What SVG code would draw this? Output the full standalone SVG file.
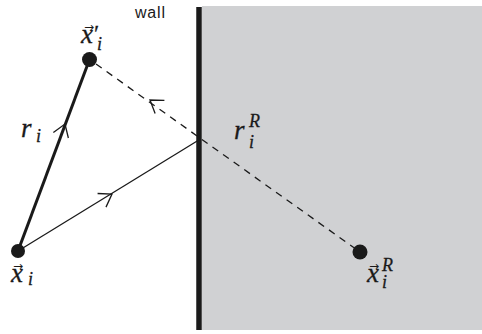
<svg xmlns="http://www.w3.org/2000/svg" xmlns:xlink="http://www.w3.org/1999/xlink" width="482" height="334" viewBox="0 0 482 334">
<style>
.m{font-family:"Liberation Serif","Times New Roman",serif;font-style:italic;font-size:27px;fill:#1a1a1a;stroke:#1a1a1a;stroke-width:0.3}
.s{font-size:18px}
.p{font-style:normal;font-size:24px}
.v{font-family:"DejaVu Sans",sans-serif;font-style:normal;font-size:12px;stroke:none}
.lbl{font-family:"Liberation Sans",Arial,sans-serif;font-size:16px;fill:#1a1a1a;letter-spacing:0.8px}
.dot{fill:#1a1a1a}
.chev{fill:none;stroke:#1a1a1a;stroke-width:1.3}
</style>
<defs>
<path id="chev" class="chev" d="M-12,-8 L0,0 L-12,8"/>
</defs>
<rect x="202" y="6" width="280" height="324" fill="#d0d1d3"/>
<line x1="199" y1="7" x2="199" y2="330" stroke="#1a1a1a" stroke-width="5.5"/>
<text class="lbl" x="135" y="18">wall</text>
<g id="connectors">
<line x1="18" y1="251" x2="89.5" y2="59.5" stroke="#1a1a1a" stroke-width="3"/>
<line x1="18" y1="251" x2="198" y2="140.5" stroke="#1a1a1a" stroke-width="1.3"/>
<line x1="96" y1="64" x2="360" y2="252" stroke="#1a1a1a" stroke-width="1.3" stroke-dasharray="7 6"/>
<use xlink:href="#chev" transform="translate(65,124) rotate(-69.8)"/>
<use xlink:href="#chev" transform="translate(112,194) rotate(-31.7)"/>
<use xlink:href="#chev" transform="translate(150,100) rotate(-144.5)"/>
</g>
<g id="node-xi-prime">
<circle class="dot" cx="89.5" cy="59.5" r="7.5"/>
<text class="m" x="81" y="43">x<tspan class="v" x="84" y="31">→</tspan><tspan class="p" x="94" y="41">′</tspan><tspan class="s" x="97" y="50">i</tspan></text>
</g>
<g id="node-xi">
<circle class="dot" cx="18" cy="251" r="7"/>
<text class="m" x="11" y="282">x<tspan class="v" x="13" y="270">→</tspan><tspan class="s" x="28" y="285">i</tspan></text>
</g>
<g id="node-xi-R">
<circle class="dot" cx="360" cy="252" r="7.5"/>
<text class="m" x="367" y="282">x<tspan class="v" x="369" y="270">→</tspan><tspan class="s" x="382" y="271">R</tspan><tspan class="s" x="382" y="288">i</tspan></text>
</g>
<text class="m" x="21" y="137">r<tspan class="s" x="36" y="142">i</tspan></text>
<text class="m" x="234" y="139">r<tspan class="s" x="249" y="127">R</tspan><tspan class="s" x="249" y="148">i</tspan></text>
</svg>
